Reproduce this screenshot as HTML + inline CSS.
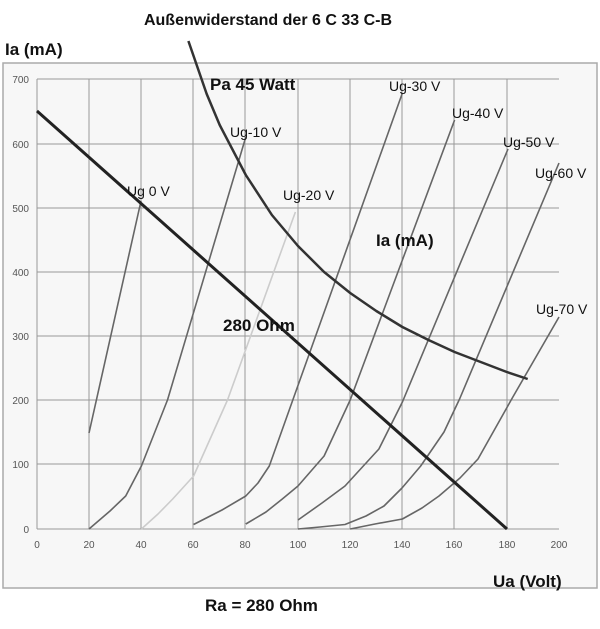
<!DOCTYPE html>
<html><head><meta charset="utf-8"><style>
html,body{margin:0;padding:0;background:#fff;}
svg{display:block;font-family:"Liberation Sans",Arial,sans-serif;}
</style></head><body>
<svg width="600" height="629" viewBox="0 0 600 629">
<rect width="600" height="629" fill="#fff"/>
<rect x="3" y="63" width="594" height="525" fill="#f7f7f7" stroke="#aaa" stroke-width="1.5"/>
<g stroke="#999" stroke-width="1">
<line x1="37" y1="79" x2="37" y2="529"/><line x1="89" y1="79" x2="89" y2="529"/><line x1="141" y1="79" x2="141" y2="529"/><line x1="193" y1="79" x2="193" y2="529"/><line x1="245" y1="79" x2="245" y2="529"/><line x1="298" y1="79" x2="298" y2="529"/><line x1="350" y1="79" x2="350" y2="529"/><line x1="402" y1="79" x2="402" y2="529"/><line x1="454" y1="79" x2="454" y2="529"/><line x1="507" y1="79" x2="507" y2="529"/>
<line x1="37" y1="79" x2="559" y2="79"/><line x1="37" y1="144" x2="559" y2="144"/><line x1="37" y1="208" x2="559" y2="208"/><line x1="37" y1="272" x2="559" y2="272"/><line x1="37" y1="336" x2="559" y2="336"/><line x1="37" y1="400" x2="559" y2="400"/><line x1="37" y1="464" x2="559" y2="464"/><line x1="37" y1="529" x2="559" y2="529"/>
</g>
<g font-size="10" fill="#555" text-anchor="end">
<text x="29" y="83">700</text><text x="29" y="148">600</text><text x="29" y="212">500</text><text x="29" y="276">400</text><text x="29" y="340">300</text><text x="29" y="404">200</text><text x="29" y="468">100</text><text x="29" y="533">0</text>
</g>
<g font-size="10" fill="#555" text-anchor="middle">
<text x="37" y="548">0</text><text x="89" y="548">20</text><text x="141" y="548">40</text><text x="193" y="548">60</text><text x="245" y="548">80</text><text x="298" y="548">100</text><text x="350" y="548">120</text><text x="402" y="548">140</text><text x="454" y="548">160</text><text x="507" y="548">180</text><text x="559" y="548">200</text>
</g>
<g fill="none" stroke="#666" stroke-width="1.6" stroke-linejoin="round">
<polyline points="89,433 141,201"/>
<polyline points="89,529 110,511 125.7,496 141.4,466 167.5,400 245.8,137"/>
<polyline points="193.6,524.5 222,510 245.8,496 258,483 269.3,466 292.8,400 402.4,93"/>
<polyline points="245.8,524 266,512 282.3,499 298,486 324.1,456 350.2,400 454.6,120"/>
<polyline points="298,520 322,503 345,486 378.9,449 402.4,402 508,149"/>
<polyline points="298,529 320,527 345,524.5 366,516 384,506 402,488 420.7,466 444,432 459.8,398.5 559,163"/>
<polyline points="350.2,529 375,524 402.4,519 422,508 439,496 460,478 478,459 512,398.5 559,317"/>
</g>
<polyline points="141.4,529 158,514 172.7,499 193.6,476 227.5,400 295.4,212" fill="none" stroke="#ccc" stroke-width="1.6" stroke-linejoin="round"/>
<path d="M37 111 L507 529" stroke="#222" stroke-width="3" fill="none"/>
<polyline points="188.4,41 206.7,94 219.7,125 245.8,175 271.9,215 298,246 324.1,272 350.2,293 376.3,311 402.4,327 428.5,340 454.6,352 480.7,362 506.8,372 527.7,379" fill="none" stroke="#333" stroke-width="2.5" stroke-linejoin="round"/>
<g font-weight="bold" fill="#111">
<text x="268" y="25" font-size="16" text-anchor="middle">Außenwiderstand der 6 C 33 C-B</text>
<text x="5" y="55" font-size="17">Ia (mA)</text>
<text x="210" y="90" font-size="17">Pa 45 Watt</text>
<text x="376" y="246" font-size="17">Ia (mA)</text>
<text x="223" y="331" font-size="17">280 Ohm</text>
<text x="493" y="587" font-size="17">Ua (Volt)</text>
<text x="205" y="611" font-size="17">Ra = 280 Ohm</text>
</g>
<g font-size="14" fill="#111">
<text x="230" y="137">Ug-10 V</text>
<text x="127" y="196">Ug 0 V</text>
<text x="283" y="200">Ug-20 V</text>
<text x="389" y="91">Ug-30 V</text>
<text x="452" y="118">Ug-40 V</text>
<text x="503" y="147">Ug-50 V</text>
<text x="535" y="178">Ug-60 V</text>
<text x="536" y="314">Ug-70 V</text>
</g>
</svg>
</body></html>
